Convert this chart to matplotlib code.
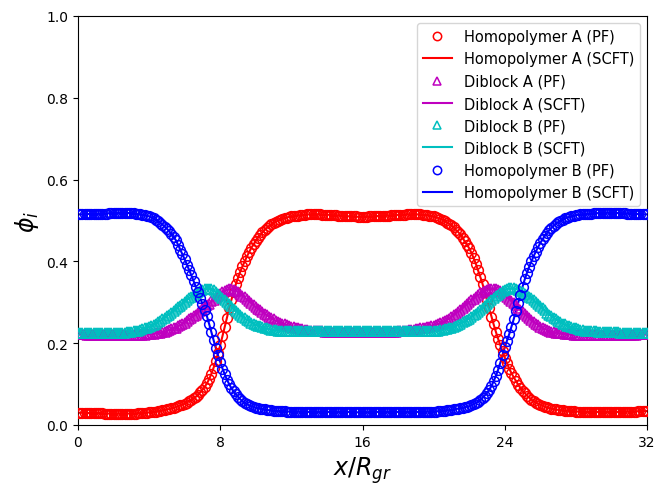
import numpy as np
import matplotlib
matplotlib.use("Agg")
import matplotlib.pyplot as plt

homo_A = [
    0.030,0.030,0.030,0.030,0.030,0.029,0.029,0.029,
    0.029,0.029,0.029,0.029,0.028,0.028,0.028,0.028,
    0.028,0.028,0.028,0.028,0.028,0.028,0.028,0.028,
    0.028,0.028,0.028,0.029,0.029,0.029,0.030,0.030,
    0.031,0.032,0.032,0.033,0.034,0.035,0.036,0.037,
    0.038,0.039,0.041,0.042,0.044,0.046,0.048,0.050,
    0.052,0.055,0.058,0.061,0.065,0.069,0.074,0.080,
    0.086,0.093,0.102,0.112,0.125,0.140,0.156,0.175,
    0.195,0.217,0.240,0.262,0.285,0.306,0.326,0.344,
    0.360,0.375,0.388,0.400,0.412,0.423,0.433,0.442,
    0.450,0.458,0.465,0.471,0.477,0.482,0.487,0.491,
    0.494,0.497,0.500,0.502,0.504,0.506,0.507,0.509,
    0.510,0.511,0.512,0.512,0.513,0.514,0.514,0.515,
    0.515,0.515,0.515,0.515,0.515,0.515,0.514,0.514,
    0.514,0.514,0.513,0.513,0.513,0.512,0.512,0.511,
    0.511,0.511,0.510,0.510,0.510,0.510,0.509,0.509,
    0.509,0.509,0.509,0.510,0.510,0.510,0.510,0.511,
    0.511,0.511,0.512,0.512,0.512,0.513,0.513,0.513,
    0.514,0.514,0.514,0.514,0.515,0.515,0.515,0.515,
    0.515,0.515,0.515,0.514,0.514,0.513,0.512,0.511,
    0.510,0.508,0.506,0.504,0.502,0.499,0.495,0.492,
    0.488,0.483,0.477,0.472,0.466,0.458,0.449,0.441,
    0.432,0.421,0.408,0.394,0.378,0.362,0.345,0.325,
    0.305,0.285,0.265,0.246,0.228,0.211,0.195,0.180,
    0.165,0.151,0.138,0.127,0.117,0.108,0.099,0.091,
    0.084,0.078,0.072,0.067,0.062,0.058,0.055,0.052,
    0.049,0.047,0.045,0.043,0.041,0.040,0.039,0.038,
    0.037,0.036,0.036,0.035,0.035,0.034,0.034,0.034,
    0.033,0.033,0.033,0.033,0.032,0.032,0.032,0.032,
    0.032,0.032,0.032,0.032,0.032,0.032,0.032,0.032,
    0.032,0.032,0.032,0.032,0.033,0.033,0.033,0.033,
    0.033,0.033,0.033,0.033,0.034,0.034,0.034,0.034,
    0.034,
]

diblock_A = [
    0.222,0.222,0.222,0.222,0.221,0.221,0.221,0.221,
    0.221,0.221,0.221,0.221,0.220,0.220,0.220,0.220,
    0.220,0.220,0.220,0.220,0.220,0.220,0.220,0.220,
    0.220,0.220,0.220,0.221,0.221,0.221,0.221,0.222,
    0.222,0.223,0.223,0.224,0.225,0.226,0.227,0.228,
    0.230,0.232,0.234,0.236,0.238,0.241,0.244,0.247,
    0.250,0.254,0.258,0.262,0.266,0.270,0.275,0.279,
    0.284,0.288,0.293,0.297,0.302,0.306,0.311,0.315,
    0.320,0.324,0.328,0.330,0.332,0.332,0.331,0.328,
    0.325,0.321,0.316,0.312,0.307,0.302,0.298,0.293,
    0.288,0.284,0.280,0.276,0.272,0.268,0.265,0.261,
    0.258,0.255,0.253,0.250,0.248,0.246,0.244,0.242,
    0.240,0.239,0.237,0.236,0.235,0.234,0.233,0.232,
    0.231,0.230,0.230,0.230,0.229,0.229,0.229,0.228,
    0.228,0.228,0.228,0.228,0.227,0.227,0.227,0.227,
    0.227,0.227,0.227,0.227,0.227,0.227,0.227,0.227,
    0.227,0.227,0.227,0.227,0.227,0.227,0.227,0.227,
    0.227,0.227,0.227,0.227,0.228,0.228,0.228,0.228,
    0.229,0.229,0.230,0.230,0.231,0.232,0.232,0.233,
    0.234,0.235,0.236,0.237,0.238,0.239,0.240,0.242,
    0.243,0.245,0.247,0.249,0.251,0.254,0.257,0.260,
    0.264,0.268,0.272,0.277,0.281,0.286,0.291,0.295,
    0.300,0.305,0.309,0.314,0.318,0.322,0.325,0.328,
    0.330,0.332,0.333,0.333,0.332,0.330,0.327,0.323,
    0.318,0.313,0.308,0.303,0.298,0.293,0.287,0.282,
    0.276,0.271,0.266,0.261,0.256,0.252,0.248,0.244,
    0.240,0.237,0.235,0.232,0.230,0.228,0.227,0.226,
    0.225,0.224,0.224,0.223,0.223,0.222,0.222,0.221,
    0.221,0.221,0.221,0.221,0.220,0.220,0.220,0.220,
    0.220,0.220,0.220,0.220,0.220,0.220,0.220,0.220,
    0.220,0.220,0.220,0.220,0.221,0.221,0.221,0.221,
    0.221,0.221,0.221,0.221,0.222,0.222,0.222,0.222,
    0.222,
]

diblock_B = [
    0.226,0.226,0.226,0.226,0.226,0.226,0.225,0.225,
    0.225,0.225,0.225,0.225,0.225,0.225,0.225,0.225,
    0.225,0.225,0.225,0.226,0.226,0.226,0.227,0.227,
    0.228,0.229,0.230,0.231,0.232,0.234,0.236,0.238,
    0.240,0.243,0.245,0.248,0.251,0.255,0.258,0.262,
    0.266,0.270,0.275,0.279,0.283,0.288,0.292,0.297,
    0.301,0.305,0.310,0.314,0.318,0.322,0.325,0.328,
    0.330,0.332,0.333,0.333,0.332,0.330,0.326,0.321,
    0.315,0.310,0.305,0.300,0.295,0.290,0.284,0.279,
    0.274,0.269,0.265,0.261,0.257,0.254,0.250,0.248,
    0.245,0.243,0.241,0.239,0.237,0.236,0.234,0.233,
    0.232,0.232,0.231,0.231,0.230,0.230,0.230,0.229,
    0.229,0.229,0.229,0.229,0.229,0.229,0.229,0.229,
    0.229,0.229,0.229,0.229,0.230,0.230,0.230,0.230,
    0.230,0.230,0.230,0.230,0.231,0.231,0.231,0.231,
    0.231,0.231,0.231,0.231,0.231,0.231,0.231,0.231,
    0.231,0.231,0.231,0.231,0.231,0.231,0.231,0.231,
    0.231,0.231,0.231,0.231,0.230,0.230,0.230,0.230,
    0.230,0.230,0.230,0.230,0.229,0.229,0.229,0.229,
    0.229,0.229,0.229,0.229,0.229,0.229,0.230,0.230,
    0.230,0.231,0.231,0.232,0.233,0.234,0.235,0.237,
    0.238,0.240,0.243,0.245,0.248,0.251,0.254,0.257,
    0.260,0.264,0.268,0.272,0.276,0.281,0.285,0.290,
    0.295,0.300,0.305,0.310,0.315,0.319,0.323,0.327,
    0.330,0.332,0.334,0.334,0.334,0.333,0.331,0.328,
    0.325,0.321,0.318,0.314,0.310,0.305,0.300,0.295,
    0.290,0.285,0.280,0.275,0.270,0.266,0.262,0.258,
    0.254,0.251,0.248,0.246,0.243,0.241,0.239,0.237,
    0.236,0.235,0.233,0.232,0.231,0.230,0.230,0.229,
    0.229,0.229,0.228,0.228,0.228,0.228,0.227,0.227,
    0.227,0.227,0.227,0.227,0.226,0.226,0.226,0.226,
    0.226,0.226,0.226,0.226,0.226,0.226,0.226,0.226,
    0.226,
]

homo_B = [
    0.515,0.515,0.515,0.515,0.516,0.516,0.516,0.516,
    0.516,0.516,0.517,0.517,0.517,0.517,0.518,0.518,
    0.518,0.518,0.518,0.519,0.519,0.519,0.519,0.518,
    0.518,0.518,0.517,0.516,0.515,0.514,0.513,0.512,
    0.510,0.508,0.505,0.502,0.498,0.494,0.490,0.485,
    0.480,0.474,0.467,0.460,0.452,0.441,0.429,0.417,
    0.405,0.392,0.379,0.366,0.352,0.338,0.324,0.310,
    0.296,0.282,0.266,0.247,0.227,0.207,0.188,0.170,
    0.154,0.138,0.124,0.111,0.100,0.090,0.082,0.075,
    0.069,0.063,0.058,0.054,0.051,0.048,0.046,0.044,
    0.042,0.041,0.040,0.039,0.038,0.037,0.036,0.036,
    0.035,0.035,0.034,0.034,0.034,0.034,0.033,0.033,
    0.033,0.033,0.033,0.033,0.032,0.032,0.032,0.032,
    0.032,0.032,0.032,0.032,0.032,0.032,0.032,0.032,
    0.032,0.032,0.032,0.032,0.032,0.032,0.032,0.032,
    0.032,0.032,0.032,0.031,0.031,0.031,0.031,0.031,
    0.031,0.031,0.031,0.031,0.031,0.031,0.032,0.032,
    0.032,0.032,0.032,0.032,0.032,0.032,0.032,0.032,
    0.032,0.032,0.032,0.032,0.032,0.032,0.032,0.032,
    0.032,0.032,0.032,0.032,0.032,0.033,0.033,0.033,
    0.033,0.033,0.034,0.034,0.035,0.035,0.036,0.036,
    0.037,0.038,0.039,0.040,0.041,0.042,0.043,0.045,
    0.046,0.048,0.051,0.054,0.057,0.061,0.066,0.072,
    0.078,0.086,0.095,0.107,0.120,0.135,0.152,0.171,
    0.190,0.206,0.222,0.240,0.258,0.278,0.298,0.318,
    0.338,0.356,0.372,0.387,0.400,0.413,0.424,0.435,
    0.445,0.454,0.462,0.469,0.476,0.482,0.487,0.492,
    0.496,0.499,0.502,0.505,0.507,0.509,0.510,0.512,
    0.513,0.514,0.515,0.515,0.516,0.516,0.517,0.517,
    0.518,0.518,0.518,0.518,0.519,0.519,0.519,0.519,
    0.519,0.519,0.519,0.518,0.518,0.518,0.518,0.517,
    0.517,0.517,0.517,0.516,0.516,0.516,0.515,0.515,
    0.515,
]

x_min, x_max = 0, 32
x_ticks = [0, 8, 16, 24, 32]
y_ticks = [0.0, 0.2, 0.4, 0.6, 0.8, 1.0]

series = [
    ("Homopolymer A", homo_A, "r", "o"),
    ("Diblock A", diblock_A, "m", "^"),
    ("Diblock B", diblock_B, "c", "^"),
    ("Homopolymer B", homo_B, "b", "o"),
]

fig = plt.figure(figsize=(6.71, 4.85), dpi=100)
ax = fig.add_axes([78/671, 1 - 426/485, (647 - 78)/671, (426 - 17)/485])

for name, vals, col, mk in series:
    vals = np.asarray(vals)
    x = np.linspace(x_min, x_max, len(vals))
    ax.plot(x, vals, linestyle="none", marker=mk, markersize=7,
            markerfacecolor="none", markeredgecolor=col, markeredgewidth=1.1,
            label=f"{name} (PF)", zorder=3)
    ax.plot(x, vals, color=col, linewidth=1.5, label=f"{name} (SCFT)", zorder=2)

ax.set_xlim(x_min, x_max)
ax.set_ylim(0, 1)
ax.set_xticks(x_ticks)
ax.set_yticks(y_ticks)
ax.tick_params(labelsize=10)
ax.set_xlabel(r"$x/R_{gr}$", fontsize=17)
ax.set_ylabel(r"$\phi_i$", fontsize=17)
leg = ax.legend(loc="upper right", fontsize=10.5)
for h in leg.legend_handles:
    if h.get_marker() not in (None, "None", ""):
        h.set_markersize(6)

fig.savefig("out.png", dpi=100)
